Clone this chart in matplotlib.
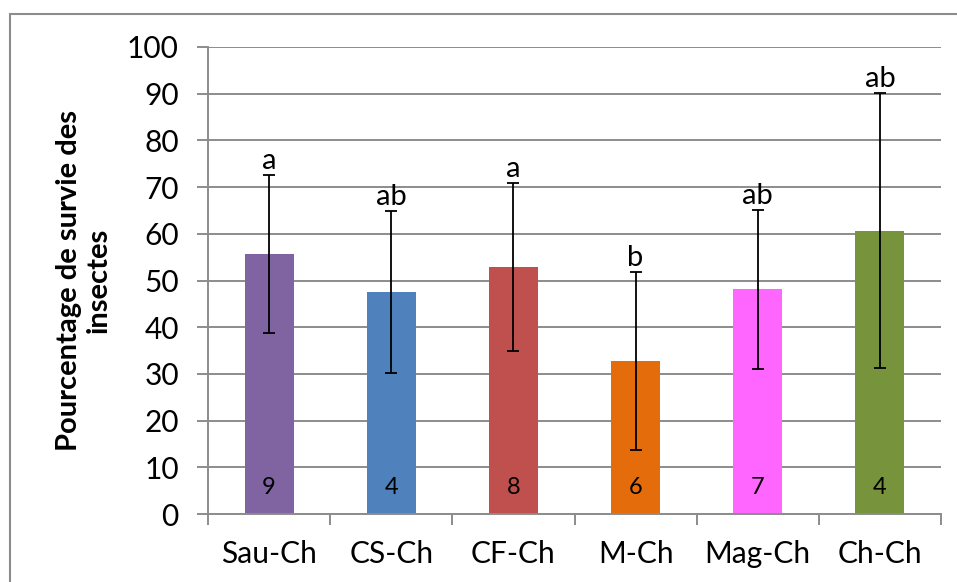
import matplotlib
matplotlib.use("Agg")
from matplotlib import pyplot as plt
from matplotlib.patches import Rectangle
import numpy as np

plt.rcParams['font.family'] = ['Lato', 'DejaVu Sans']

categories = ['Sau-Ch', 'CS-Ch', 'CF-Ch', 'M-Ch', 'Mag-Ch', 'Ch-Ch']
survie = [55.7, 47.5, 52.9, 32.8, 48.1, 60.7]
erreur = [16.9, 17.4, 17.9, 19.0, 17.0, 29.4]
lettres = ['a', 'ab', 'a', 'b', 'ab', 'ab']
effectifs = ['9', '4', '8', '6', '7', '4']
couleurs = ['#8064A2', '#4F81BD', '#C0504D', '#E46C0A', '#FF66FF', '#77933C']

grid_col = '#8C8C8C'

fig = plt.figure(figsize=(9.57, 5.82), dpi=100)
ax = fig.add_axes([208 / 957, 1 - 514 / 582, (941 - 208) / 957, (514 - 47) / 582])

x = np.arange(len(categories))
ax.bar(x, survie, width=0.4, color=couleurs, zorder=2)
ax.errorbar(x, survie, yerr=erreur, fmt='none', ecolor='black',
            elinewidth=1.3, capsize=4.5, capthick=1.3, zorder=3)

for xi, m, e, lt in zip(x, survie, erreur, lettres):
    ax.annotate(lt, (xi, m + e), xytext=(0, 1), textcoords='offset points',
                ha='center', va='bottom', fontsize=21)
for xi, n in zip(x, effectifs):
    ax.text(xi, 5.6, n, ha='center', va='center', fontsize=17)

ax.set_xlim(-0.5, len(categories) - 0.5)
ax.set_ylim(0, 100)
ax.set_yticks(np.arange(0, 101, 10))
ax.yaxis.grid(True, color=grid_col, linewidth=1.4, zorder=0)
ax.set_axisbelow(True)

ax.set_xticks(x)
ax.set_xticklabels(categories, fontsize=21.5)
ax.set_xticks(np.arange(-0.5, len(categories)), minor=True)
ax.tick_params(axis='x', which='major', length=0, pad=19)
ax.tick_params(axis='x', which='minor', length=8, width=1.4, color=grid_col, direction='out')
ax.tick_params(axis='y', length=8, width=1.4, color=grid_col, labelsize=21.5, pad=13)

for s in ['top', 'right']:
    ax.spines[s].set_visible(False)
for s in ['left', 'bottom']:
    ax.spines[s].set_color(grid_col)
    ax.spines[s].set_linewidth(1.4)

fig.text(84 / 957, 1 - 280 / 582, 'Pourcentage de survie des\ninsectes', rotation=90,
         ha='center', va='center', fontsize=21, fontweight='bold', multialignment='center',
         linespacing=1.2)

# cadre du graphique
fig.patches.append(Rectangle((10 / 957, -0.1), 1.2, 1.1 - 14 / 582, transform=fig.transFigure,
                             fill=False, edgecolor='#8C8C8C', linewidth=1.5, clip_on=False))

fig.savefig('out.png', dpi=100)
